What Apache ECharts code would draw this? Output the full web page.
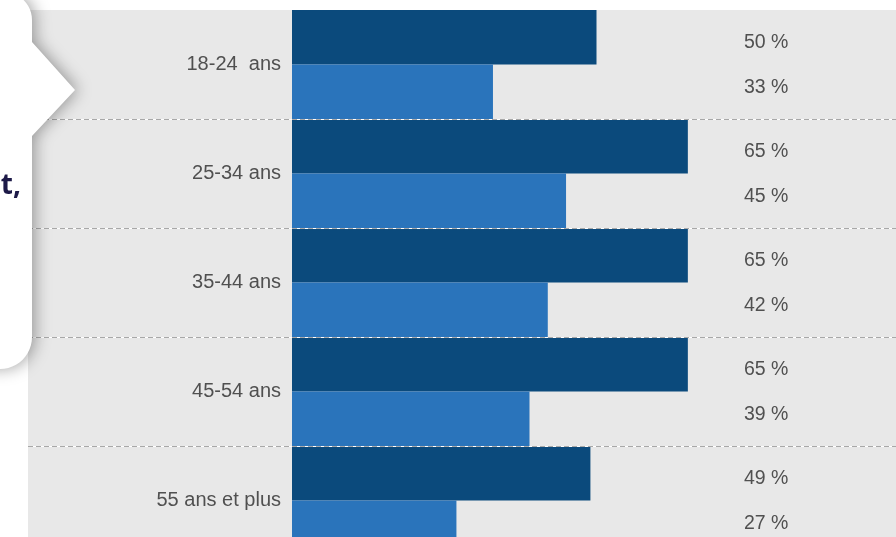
<!DOCTYPE html>
<html>
<head>
<meta charset="utf-8">
<script src="https://cdn.jsdelivr.net/npm/echarts@6/dist/echarts.min.js"></script>
<style>
  html, body { margin: 0; padding: 0; background: #fff; }
  #chart { width: 896px; height: 537px; }
</style>
</head>
<body>
<div id="chart"></div>
<script>
const ageGroups = ['18-24  ans', '25-34 ans', '35-44 ans', '45-54 ans', '55 ans et plus'];
const darkValues = [50, 65, 65, 65, 49];
const lightValues = [33, 45, 42, 39, 27];

const textColor = '#505050';
const baseFont = 'Liberation Sans';

// rounded callout on the left (decoration only)
function arcPts(cx, cy, r, a0, a1, n) {
  const pts = [];
  for (let i = 0; i <= n; i++) {
    const a = (a0 + (a1 - a0) * i / n) * Math.PI / 180;
    pts.push([cx + r * Math.cos(a), cy + r * Math.sin(a)]);
  }
  return pts;
}
let callout = [[-40, -30], [-40, -8]];
callout = callout.concat(arcPts(4, 20, 28, -90, 0, 12));
callout.push([32, 42], [75, 90], [32, 136]);
callout = callout.concat(arcPts(0, 337, 32, 0, 90, 12));
callout.push([-40, 369]);

const dom = document.getElementById('chart');
const myChart = echarts.init(dom, null, { renderer: 'canvas' });

function labelOpt(dy) {
  return {
    show: true,
    position: [452, '50%'],
    align: 'left',
    verticalAlign: 'middle',
    offset: [0, dy],
    formatter: '{c} %',
    fontFamily: baseFont,
    fontSize: 19.5,
    color: textColor
  };
}

const option = {
  animation: false,
  grid: [
    { left: 28, top: 10, width: 868, height: 545, outerBoundsMode: 'none', show: true, backgroundColor: '#e8e8e8', borderWidth: 0 },
    { left: 292, top: 10, width: 609, height: 545, outerBoundsMode: 'none' }
  ],
  xAxis: [
    { gridIndex: 0, type: 'value', show: false },
    { gridIndex: 1, type: 'value', min: 0, max: 100, show: false }
  ],
  yAxis: [
    {
      gridIndex: 0, type: 'category', inverse: true, data: ageGroups, position: 'left', z: 5,
      axisLine: { show: false }, axisTick: { show: false }, axisLabel: { show: false },
      splitLine: { show: true, showMinLine: false, lineStyle: { color: '#ffffff', width: 1, type: 'solid' } }
    },
    {
      gridIndex: 0, type: 'category', inverse: true, data: ageGroups, position: 'right', z: 6,
      axisLine: { show: false }, axisTick: { show: false }, axisLabel: { show: false },
      splitLine: { show: true, showMinLine: false, lineStyle: { color: '#a8a8a8', width: 1, type: [5, 3] } }
    },
    {
      gridIndex: 1, type: 'category', inverse: true, data: ageGroups,
      axisLine: { show: false }, axisTick: { show: false },
      axisLabel: { margin: 11, fontFamily: baseFont, fontSize: 20, color: textColor, padding: [6, 0, 0, 0] }
    }
  ],
  graphic: [
    {
      type: 'polygon', z: 100,
      shape: { points: callout },
      style: { fill: '#ffffff', shadowBlur: 16, shadowColor: 'rgba(0,0,0,0.35)', shadowOffsetX: 3 }
    },
    {
      type: 'text', z: 101, x: 21, y: 186,
      style: { text: 't,', font: 'bold 28px "Noto Sans"', fill: '#1d1a48', align: 'right', verticalAlign: 'middle' }
    }
  ],
  series: [
    {
      name: 'dark', type: 'bar', xAxisIndex: 1, yAxisIndex: 2,
      data: darkValues, barGap: '0%', barCategoryGap: '0%',
      itemStyle: { color: '#0b4a7c' },
      label: labelOpt(5)
    },
    {
      name: 'light', type: 'bar', xAxisIndex: 1, yAxisIndex: 2,
      data: lightValues, barGap: '0%', barCategoryGap: '0%',
      itemStyle: { color: '#2a74bb' },
      label: labelOpt(-4)
    }
  ]
};

myChart.setOption(option);
window.addEventListener('resize', myChart.resize);
</script>
</body>
</html>
